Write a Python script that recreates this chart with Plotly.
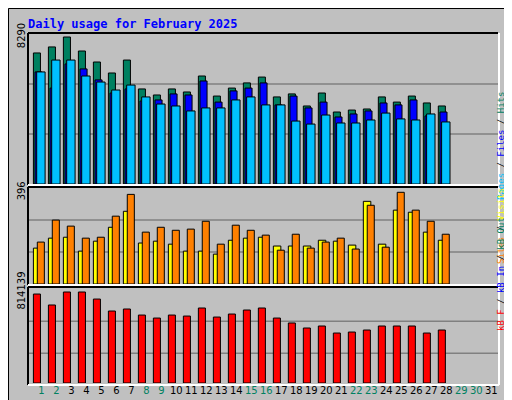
import plotly.graph_objects as go

days = list(range(1, 32))
d28 = list(range(1, 29))
hits = [7390, 7730, 8290, 7500, 6880, 6260, 6990, 5360, 5020, 5360, 5190, 6090, 4960, 5410, 5700, 6030,
        4910, 5080, 4400, 5130, 4060, 4170, 4230, 4910, 4620, 4960, 4570, 4400]
files = [6320, 5410, 6770, 6490, 5870, 5130, 5360, 4680, 4740, 5080, 5020, 5810, 4620, 5250, 5410, 5700,
         4460, 4960, 4290, 4620, 3780, 3950, 4120, 4570, 4460, 4740, 3840, 4060]
pages = [6320, 6990, 6990, 6090, 5750, 5300, 5580, 4910, 4510, 4400, 4120, 4290, 4290, 4740, 4910, 4460,
         4460, 3550, 3380, 3890, 3440, 3440, 3610, 4000, 3670, 3610, 3950, 3500]
visits = [155, 198, 202, 142, 185, 245, 314, 177, 185, 172, 142, 142, 129, 189, 198, 202,
          164, 164, 164, 189, 185, 168, 357, 172, 319, 310, 224, 189]
sites = [181, 276, 250, 198, 202, 293, 387, 224, 245, 232, 237, 271, 172, 254, 232, 211,
         146, 215, 155, 181, 198, 151, 340, 159, 396, 319, 271, 215]
kbf = [796000, 698000, 814139, 814139, 751000, 644000, 662000, 608000, 581000, 608000, 599000, 671000,
       590000, 617000, 653000, 671000, 581000, 537000, 492000, 510000, 447000, 456000, 474000, 510000,
       510000, 510000, 447000, 474000]
weekend = {1, 2, 8, 9, 15, 16, 22, 23, 29, 30}

fig = go.Figure()
def bars(y, color, off, w, ax):
    fig.add_trace(go.Bar(x=d28, y=y, marker=dict(color=color, line=dict(color="black", width=1)),
                         offset=off, width=w, yaxis=ax, xaxis="x"))
bars(hits, "#008060", -0.53, 0.47, "y")
bars(files, "#0000ff", -0.42, 0.47, "y")
bars(pages, "#00c0ff", -0.31, 0.56, "y")
bars(visits, "#ffff00", -0.53, 0.5, "y2")
bars(sites, "#ff8000", -0.27, 0.47, "y2")
bars(kbf, "#ff0000", -0.53, 0.47, "y3")

def xp(px): return (px - 20) / 470
def yp(py): return (377 - py) / 351

shapes = []
for ax, vals in (("y", [2820, 5640]), ("y2", [138, 276]), ("y3", [266000, 553000])):
    for v in vals:
        shapes.append(dict(type="line", xref="paper", yref=ax, x0=0, x1=1, y0=v, y1=v,
                           line=dict(color="#808080", width=1.5), layer="below"))
for top, bot in ((25, 177), (179, 277), (279, 377)):
    shapes += [
        dict(type="line", xref="paper", yref="paper", x0=xp(20), x1=xp(490), y0=yp(top), y1=yp(top), line=dict(color="black", width=2)),
        dict(type="line", xref="paper", yref="paper", x0=xp(20), x1=xp(20), y0=yp(top), y1=yp(bot), line=dict(color="black", width=2)),
        dict(type="line", xref="paper", yref="paper", x0=xp(20), x1=xp(491), y0=yp(bot), y1=yp(bot), line=dict(color="white", width=2)),
        dict(type="line", xref="paper", yref="paper", x0=xp(491), x1=xp(491), y0=yp(top), y1=yp(bot), line=dict(color="white", width=2)),
    ]
shapes += [
    dict(type="rect", xref="paper", yref="paper", x0=xp(0.5), x1=xp(511.5), y0=yp(399.5), y1=yp(0.5), line=dict(color="black", width=1)),
    dict(type="line", xref="paper", yref="paper", x0=xp(1), x1=xp(511), y0=yp(397.5), y1=yp(397.5), line=dict(color="#808080", width=3)),
    dict(type="line", xref="paper", yref="paper", x0=xp(509.5), x1=xp(509.5), y0=yp(2), y1=yp(398), line=dict(color="#808080", width=3)),
]

def ann(y, parts):
    txt = " / ".join(f'<span style="color:{c}">{t}</span>' for t, c in parts)
    return dict(x=xp(500), y=yp(y), xref="paper", yref="paper", text=txt, showarrow=False, textangle=-90,
                font=dict(family="DejaVu Sans Mono", size=9, color="black"))

annotations = [
    dict(x=xp(18), y=yp(16), xref="paper", yref="paper", xanchor="left", yanchor="middle", showarrow=False,
         text="<b>Daily usage for February 2025</b>", font=dict(family="DejaVu Sans Mono", size=12, color="#0000ff")),
    ann(82, [("Pages", "#00c0ff"), ("Files", "#0000ff"), ("Hits", "#008060")]),
    ann(218, [("Sites", "#ff8000"), ("Visits", "#ffff00")]),
    ann(325, [("kB F", "#ff0000"), ("kB In", "#0000ff"), ("kB Out", "#008060")]),
]

ticktext = [f'<span style="color:{"#008060" if d in weekend else "black"}">{d}</span>' for d in days]
yfont = dict(family="DejaVu Sans", size=10, color="black")
fig.update_layout(
    width=512, height=400, autosize=False, showlegend=False, barmode="overlay",
    margin=dict(l=20, r=22, t=26, b=23),
    paper_bgcolor="#c0c0c0", plot_bgcolor="#c0c0c0",
    xaxis=dict(range=[0.11, 31.45], tickvals=days, ticktext=ticktext, tickangle=0, showgrid=False, automargin=False,
               zeroline=False, ticks="", tickfont=dict(family="DejaVu Sans", size=10), anchor="y3"),
    yaxis=dict(domain=[yp(176), yp(26)], range=[0, 8459], tickvals=[8290], ticktext=["8290"], tickangle=-90,
               showgrid=False, zeroline=False, tickfont=yfont, automargin=False),
    yaxis2=dict(domain=[yp(276), yp(180)], range=[0, 414.6], tickvals=[396], ticktext=["396"], tickangle=-90,
                showgrid=False, zeroline=False, tickfont=yfont, automargin=False),
    yaxis3=dict(domain=[yp(375), yp(280)], range=[0, 850000], tickvals=[814139], ticktext=["814139"], tickangle=-90,
                showgrid=False, zeroline=False, tickfont=yfont, automargin=False),
    shapes=shapes, annotations=annotations,
)
fig.write_html("out.html")
